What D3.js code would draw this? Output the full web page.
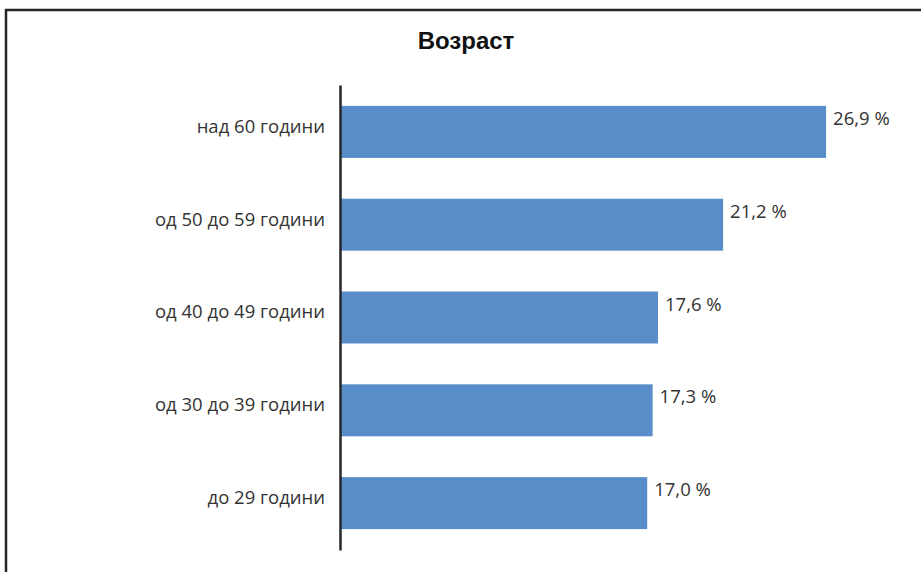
<!DOCTYPE html>
<meta charset="utf-8">
<style>
body { margin: 0; background: #fff; }
svg text { font-family: "Open Sans", sans-serif; fill: #333; }
svg .title { font-family: "Liberation Sans", Arial, sans-serif; font-weight: bold; font-size: 24px; fill: #111; text-anchor: middle; }
</style>
<body>
<svg width="921" height="572"></svg>
<script src="https://cdn.jsdelivr.net/npm/d3@7"></script>
<script>

var categories = ["над 60 години", "од 50 до 59 години", "од 40 до 49 години", "од 30 до 39 години", "до 29 години"];
var values = [26.9, 21.2, 17.6, 17.3, 17.0];
var valueLabels = ["26,9 %", "21,2 %", "17,6 %", "17,3 %", "17,0 %"];

var svg = d3.select("svg");

// outer frame, runs past right and bottom edges
svg.append("rect").attr("x", 6).attr("y", 10).attr("width", 940).attr("height", 600)
  .attr("fill", "none").attr("stroke", "#262626").attr("stroke-width", 2.5);

svg.append("text").attr("class", "title").attr("x", 466).attr("y", 49).text("Возраст");

var x = d3.scaleLinear().domain([0, 30]).range([340, 340 + 30 * 18.07]);
var y = d3.scaleBand().domain(categories).range([85, 550]).paddingInner(0.44).paddingOuter(0.225);

svg.append("g").selectAll("rect").data(values).join("rect")
  .attr("x", x(0))
  .attr("y", (d, i) => y(categories[i]))
  .attr("width", d => x(d) - x(0))
  .attr("height", y.bandwidth())
  .attr("fill", "#598dc9");

svg.append("g").selectAll("text").data(values).join("text")
  .attr("x", d => x(d) + 7)
  .attr("y", (d, i) => y(categories[i]) + 19)
  .style("font-size", "18.5px")
  .text((d, i) => valueLabels[i]);

var axis = svg.append("g").attr("transform", "translate(" + x(0) + ",0)")
  .call(d3.axisLeft(y).tickSize(0).tickPadding(15));
axis.select(".domain").attr("stroke", "#262626").attr("stroke-width", 2.5);
axis.selectAll("text").style("font-size", "18.5px").attr("dy", "0.05em")
  .style("font-family", "'Open Sans', sans-serif").attr("fill", "#333");

</script>
</body>
